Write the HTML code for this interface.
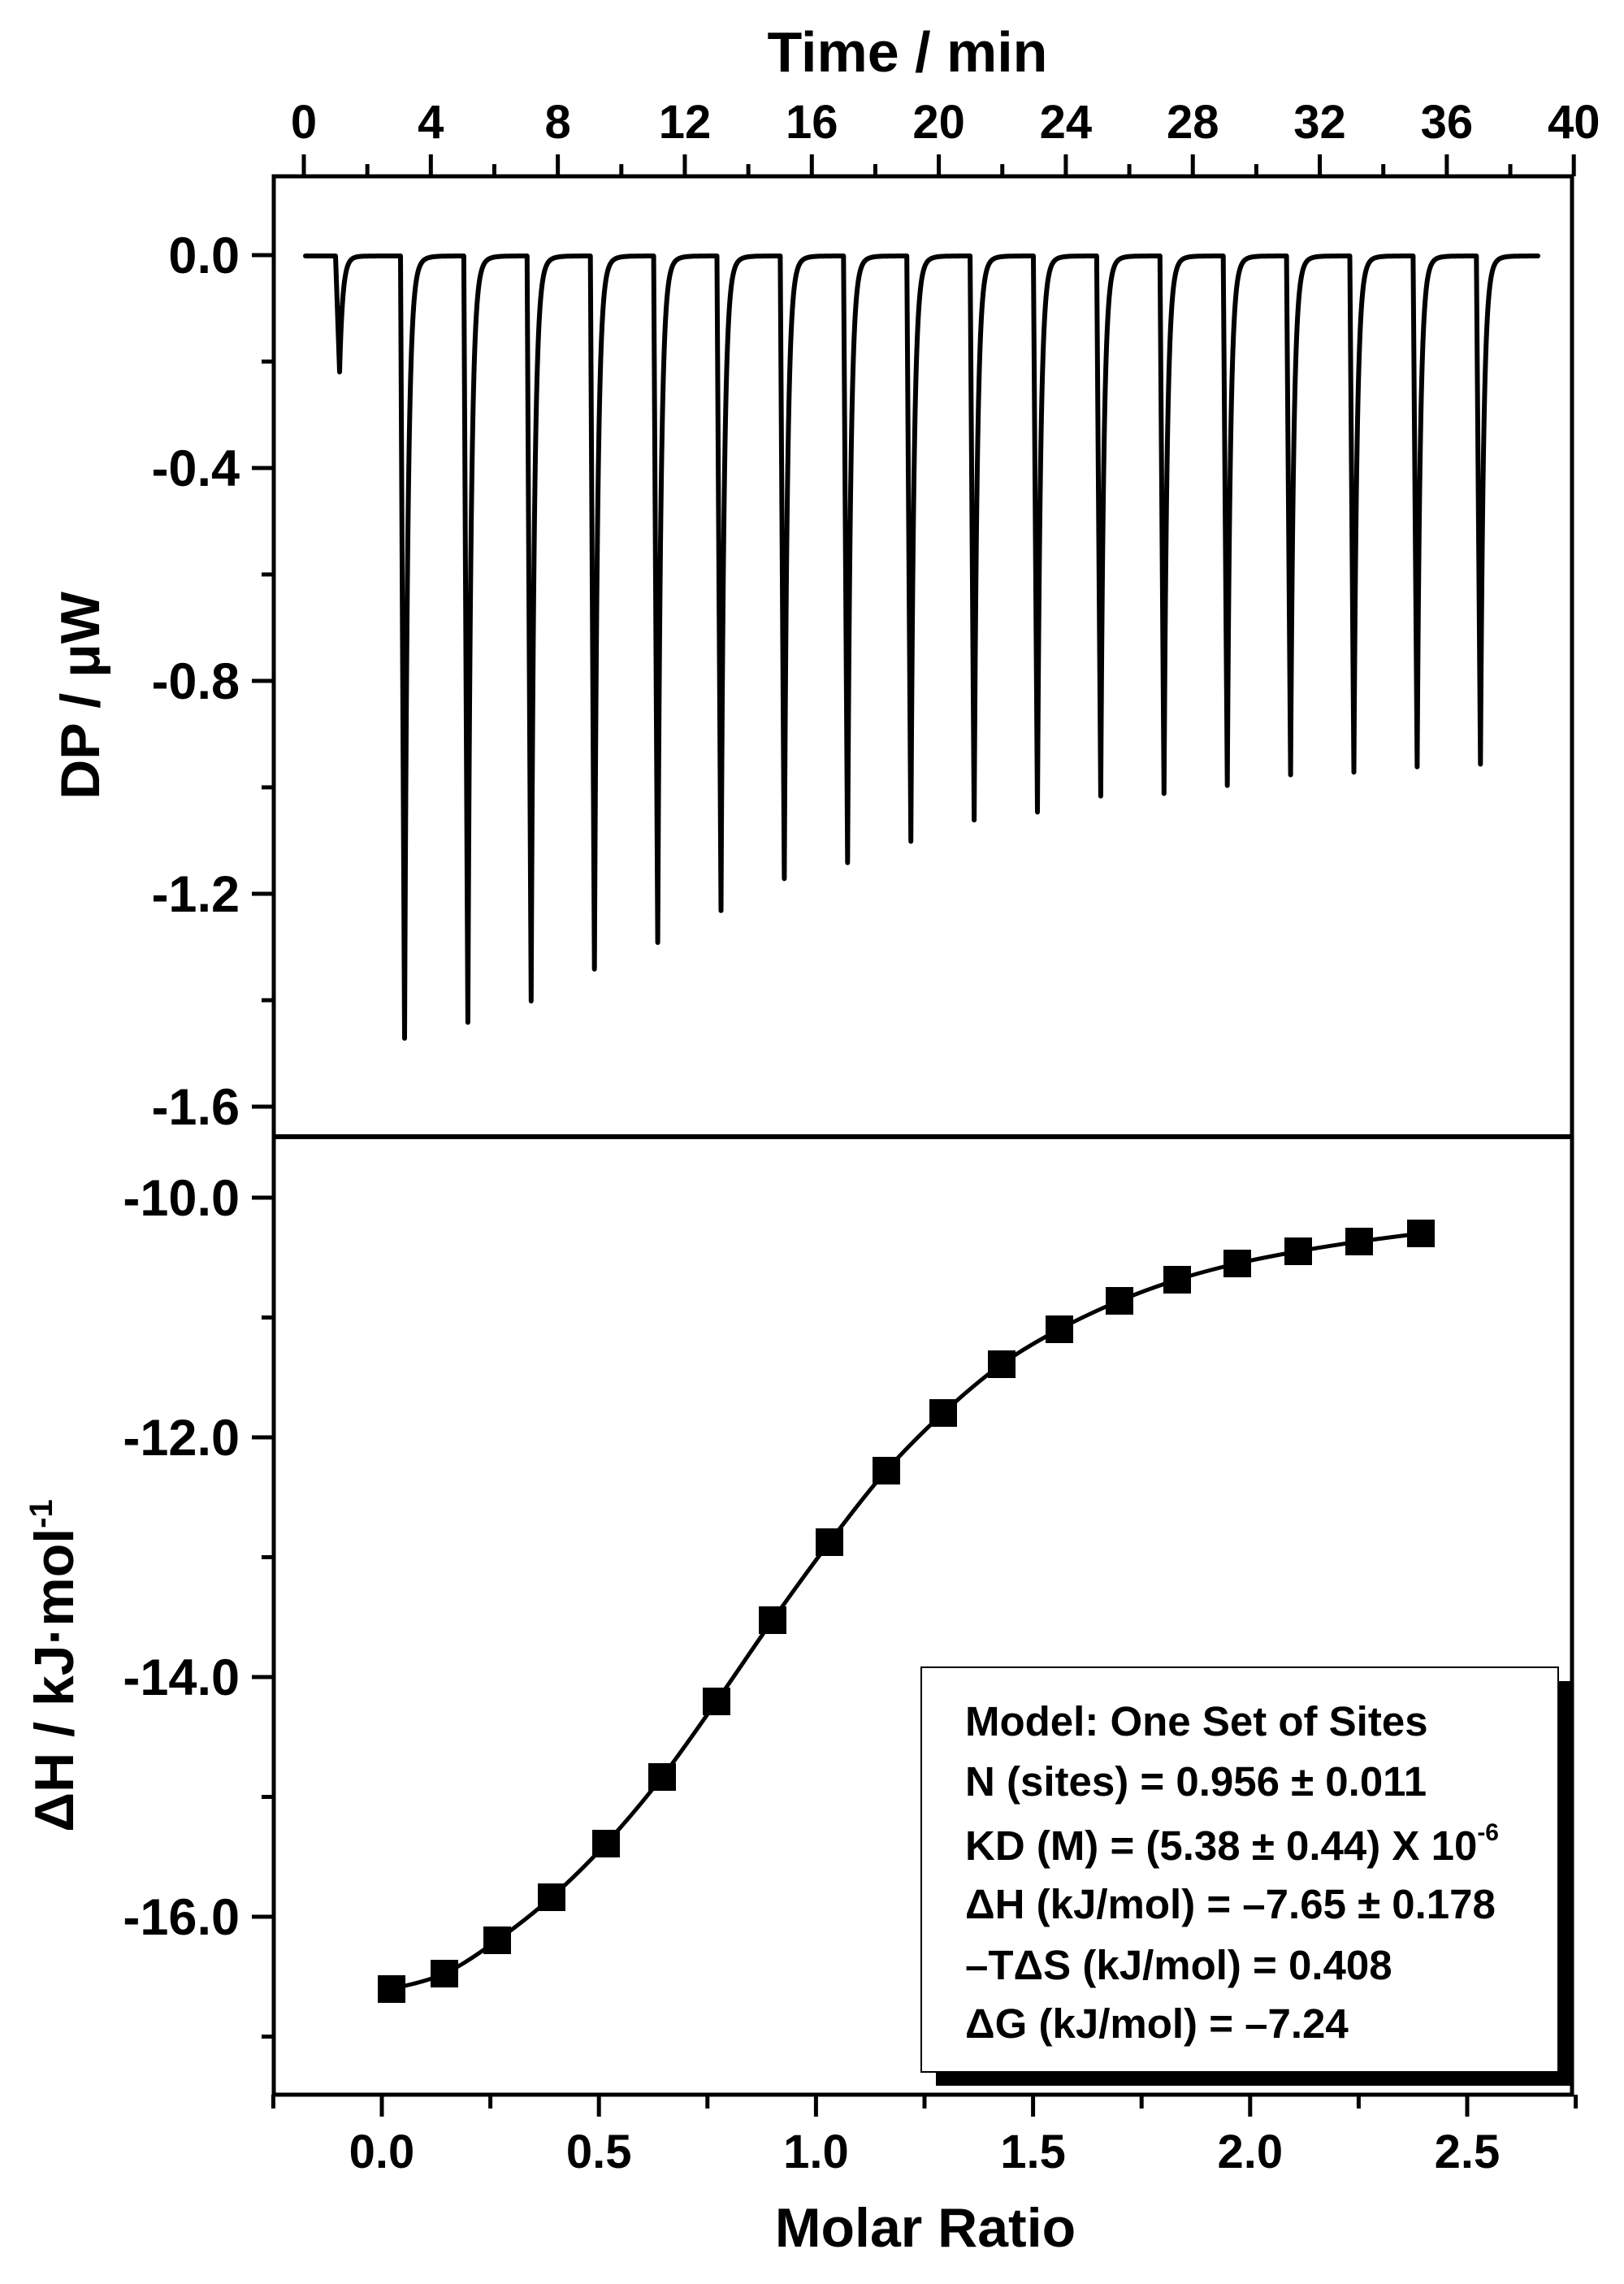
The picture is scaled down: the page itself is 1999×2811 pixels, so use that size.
<!DOCTYPE html>
<html><head><meta charset="utf-8"><style>
html,body{margin:0;padding:0;background:#fff;}
svg{display:block;}
text{font-family:"Liberation Sans",Arial,sans-serif;font-weight:bold;fill:#000;}
</style></head><body>
<svg id="s" width="1999" height="2811" viewBox="0 0 1999 2811" xmlns="http://www.w3.org/2000/svg">
<rect width="1999" height="2811" fill="#fff"/>
<g id="ticks" stroke="#000" stroke-width="5" fill="none"></g>
<path id="trace" fill="none" stroke="#000" stroke-width="6" stroke-linejoin="round" stroke-linecap="round"/>
<path id="fit" fill="none" stroke="#000" stroke-width="5" stroke-linejoin="round"/>
<g id="pts" fill="#000"></g>
<rect x="337" y="217" width="1598" height="2361" fill="none" stroke="#000" stroke-width="5"/>
<line x1="337" y1="1399" x2="1935" y2="1399" stroke="#000" stroke-width="6"/>
<text x="1117" y="88" font-size="70" text-anchor="middle">Time / min</text>
<text x="1139" y="2765" font-size="68" text-anchor="middle">Molar Ratio</text>
<text transform="translate(122,856) rotate(-90)" font-size="68" text-anchor="middle">DP / μW</text>
<text transform="translate(90,2050) rotate(-90)" font-size="68" text-anchor="middle">ΔH / kJ·mol<tspan dy="-26" font-size="40">-1</tspan></text>
<g id="labels" font-size="58"></g>
<g id="ylabels" font-size="63"></g>
<rect x="1152" y="2069" width="783" height="498" fill="#000"/>
<rect x="1134" y="2052" width="784" height="498" fill="#fff" stroke="#000" stroke-width="2"/>
<g font-size="51">
<text x="1188" y="2136">Model: One Set of Sites</text>
<text x="1188" y="2210">N (sites) = 0.956 ± 0.011</text>
<text x="1188" y="2289">KD (M) = (5.38 ± 0.44) X 10<tspan dy="-24" font-size="30">-6</tspan></text>
<text x="1188" y="2361">ΔH (kJ/mol) = –7.65 ± 0.178</text>
<text x="1188" y="2436">–TΔS (kJ/mol) = 0.408</text>
<text x="1188" y="2508">ΔG (kJ/mol) = –7.24</text>
</g>
</svg>
<script>
var NS="http://www.w3.org/2000/svg";
function el(p,n,a,t){var e=document.createElementNS(NS,n);for(var k in a)e.setAttribute(k,a[k]);if(t!=null)e.textContent=t;p.appendChild(e);return e;}
var T=document.getElementById('ticks'),L=document.getElementById('labels'),YL=document.getElementById('ylabels');
function X1(t){return 374+t*39.08;}
for(var t=0;t<=40;t+=2){var x=X1(t),maj=t%4==0;el(T,'line',{x1:x,x2:x,y1:217,y2:maj?190:202});if(maj)el(L,'text',{x:x,y:170,'text-anchor':'middle'},String(t));}
function Y1(d){return 314-d*655;}
for(var i=0;i<=8;i++){var d=-0.2*i,y=Y1(d),maj=i%2==0;el(T,'line',{x1:337,x2:maj?310:322,y1:y,y2:y});if(maj)el(YL,'text',{x:295,y:y+22,'text-anchor':'end'},i==0?'0.0':d.toFixed(1));}
function Y2(v){return 1474+(-10-v)*147.5;}
for(var v=-10;v>=-17;v--){var y=Y2(v),maj=v%2==0;el(T,'line',{x1:337,x2:maj?310:322,y1:y,y2:y});if(maj)el(YL,'text',{x:295,y:y+22,'text-anchor':'end'},v.toFixed(1));}
function X2(m){return 470+m*534.4;}
for(var k=-1;k<=11;k++){var m=k*0.25,x=X2(m),maj=k>=0&&k%2==0;el(T,'line',{x1:x,x2:x,y1:2578,y2:maj?2605:2595});if(maj)el(L,'text',{x:x,y:2668,'text-anchor':'middle'},m.toFixed(1));}
var drops=[[413,0.218*655]],depth=[1.47,1.44,1.40,1.34,1.29,1.23,1.17,1.14,1.10,1.06,1.045,1.015,1.01,0.995,0.975,0.97,0.96,0.955];
for(var i=0;i<18;i++)drops.push([493+77.9*i,depth[i]*655]);
var base=315,xs=[];
for(var x=376;x<=1893;x+=0.5)xs.push(x);
drops.forEach(function(dd){xs.push(dd[0]);xs.push(dd[0]+5);});
xs.sort(function(a,b){return a-b;});
var pts=[];
xs.forEach(function(x){var y=base;
 for(var j=0;j<drops.length;j++){var x0=drops[j][0],A=drops[j][1],dx=x-x0;
  if(dx>=0&&dx<=5)y+=A*dx/5;
  else if(dx>5){var r=dx-5;y+=A*(0.95*Math.exp(-r/3.8)+0.05*Math.exp(-r/9));}}
 pts.push(x.toFixed(2)+','+y.toFixed(1));});
document.getElementById('trace').setAttribute('d','M'+pts.join('L'));
var P=[[482,2448],[547,2429],[612,2388],[679,2335],[746,2269],[815,2187],[882,2094],[951,1994],[1021,1898],[1091,1810],[1161,1739],[1233,1679],[1304,1636],[1378,1601],[1449,1575],[1523,1555],[1598,1540],[1673,1528],[1749,1518]];
var d='M'+P[0][0]+','+P[0][1];
for(var i=0;i<P.length-1;i++){var p0=P[Math.max(0,i-1)],p1=P[i],p2=P[i+1],p3=P[Math.min(P.length-1,i+2)];
 d+='C'+(p1[0]+(p2[0]-p0[0])/6)+','+(p1[1]+(p2[1]-p0[1])/6)+' '+(p2[0]-(p3[0]-p1[0])/6)+','+(p2[1]-(p3[1]-p1[1])/6)+' '+p2[0]+','+p2[1];}
document.getElementById('fit').setAttribute('d',d);
var G=document.getElementById('pts');
P.forEach(function(p){el(G,'rect',{x:p[0]-17,y:p[1]-17,width:34,height:34});});
</script>
</body></html>
